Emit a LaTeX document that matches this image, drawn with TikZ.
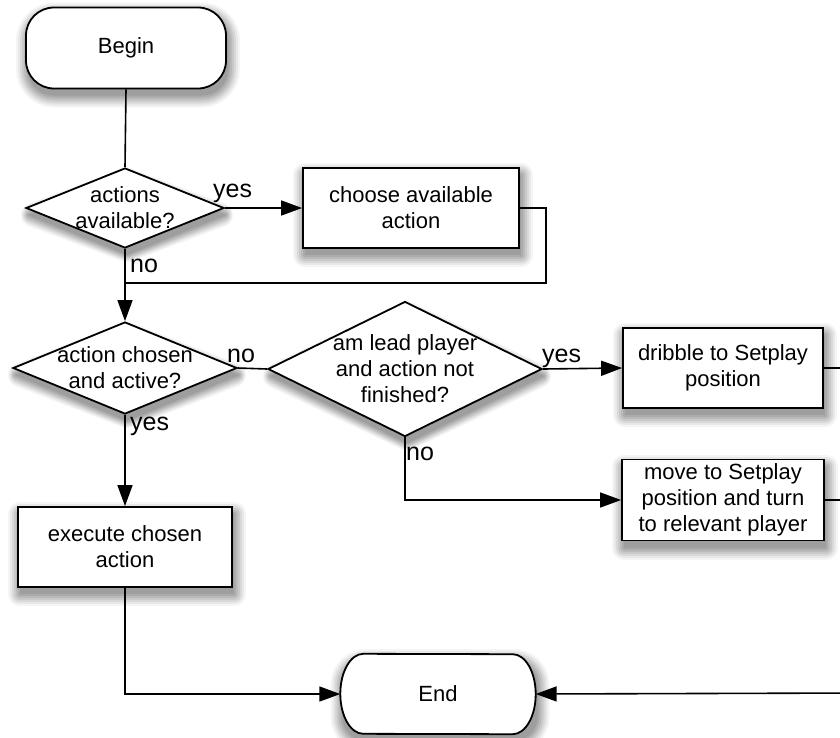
\documentclass[tikz,border=0pt]{standalone}
\usepackage{fontspec}
\setmainfont{Liberation Sans}
\usetikzlibrary{shapes.geometric,arrows.meta}

\tikzset{
  x=1pt, y=-1pt,
  boxfont/.style={font=\fontsize{22}{26}\selectfont},
  terminal/.style={draw, line width=1.8pt, fill=white, rounded corners=28pt,
      minimum width=200pt, minimum height=81pt, boxfont},
  stepbox/.style={draw, line width=1.8pt, fill=white, align=center,
      minimum height=80pt, inner sep=2pt, boxfont},
  decision/.style={draw, diamond, line width=1.8pt, fill=white, inner sep=0pt},
  dtext/.style={align=center, inner sep=0pt, boxfont},
  edgelabel/.style={inner sep=0pt, font=\fontsize{25}{28}\selectfont},
  link/.style={line width=1.6pt},
  arrowlink/.style={line width=1.6pt, -{Triangle[length=21pt,width=15pt]}},
  shadeshape/.style={inner sep=0pt, line join=round},
}

% soft drop shadow: nested grey copies of a shape, widest and lightest first;
% #1 = position, #2 = width, #3 = height, #4 = shape options
\newcommand\dropshade[4]{%
  \foreach \g/\w in {4/24,9/20,15/16,21/12,27/8,33/4}{%
    \path[shift={(2,7)}] #1 node[shadeshape, #4, minimum width=#2, minimum height=#3,
      draw=black!\g, fill=black!\g, line width=\w pt] {};}
  \path[shift={(2,7)}] #1 node[shadeshape, #4, minimum width=#2, minimum height=#3,
      fill=black!38] {};}

\begin{document}
\begin{tikzpicture}
\useasboundingbox (0,0) rectangle (840,737);

% shadows beneath the shapes
\dropshade{(126,48)}{200pt}{81pt}{rectangle, rounded corners=26pt}
\dropshade{(438,694)}{195pt}{80pt}{rectangle, rounded corners=24pt}
\dropshade{(125,208)}{198pt}{80pt}{diamond}
\dropshade{(125,368)}{224pt}{92pt}{diamond}
\dropshade{(405,369)}{274pt}{135pt}{diamond}
\dropshade{(411,208)}{216pt}{80pt}{rectangle}
\dropshade{(723,368)}{200pt}{80pt}{rectangle}
\dropshade{(723,500)}{202pt}{81pt}{rectangle}
\dropshade{(125,547)}{214pt}{80pt}{rectangle}

% start terminal
\node[terminal] (begin) at (126,48) {Begin};

% end terminal: outline with elliptical ends, text on top
\node[minimum width=195pt, minimum height=80pt, inner sep=0pt] (finish) at (438,694) {};
\draw[line width=1.8pt, fill=white]
  ([xshift=23pt]finish.north west)
    arc[start angle=90, end angle=270, x radius=23pt, y radius=40pt]
  -- ([xshift=-23pt]finish.south east)
    arc[start angle=-90, end angle=90, x radius=23pt, y radius=40pt]
  -- cycle;
\node[boxfont] at (finish) {End};

% decisions
\node[decision, minimum width=198pt, minimum height=80pt] (avail) at (125,208) {};
\node[dtext] at (avail) {actions\\available?};

\node[decision, minimum width=224pt, minimum height=92pt] (active) at (125,368) {};
\node[dtext] at (active) {action chosen\\and active?};

\node[decision, minimum width=274pt, minimum height=135pt] (lead) at (405,369) {};
\node[dtext] at (lead) {am lead player\\and action not\\finished?};

% process steps
\node[stepbox, minimum width=216pt] (choose) at (411,208) {choose available\\action};
\node[stepbox, minimum width=200pt] (dribble) at (723,368) {dribble to Setplay\\position};
\node[stepbox, minimum width=202pt, minimum height=81pt] (move) at (723,500)
  {move to Setplay\\position and turn\\to relevant player};
\node[stepbox, minimum width=214pt] (exec) at (125,547) {execute chosen\\action};

% junction points
\coordinate (join) at (125,283);
\coordinate (loopR) at (546,283);
\coordinate (rtop) at (860,368);
\coordinate (rmid) at (860,500);
\coordinate (rbot) at (860,693);

% connectors
\draw[link] (begin.south) -- (avail.north);
\draw[arrowlink] (avail.east) -- (choose.west);
\draw[link] (choose.east) -| (loopR) -- (join);
\draw[arrowlink] (avail.south) -- (active.north);
\draw[link] (active.east) -- (lead.west);
\draw[arrowlink] (lead.east) -- (dribble.west);
\draw[arrowlink] (lead.south) |- (move.west);
\draw[arrowlink] (active.south) -- (exec.north);
\draw[arrowlink] (exec.south) |- (finish.west);
\draw[link] (dribble.east) -- (rtop) -- (rbot);
\draw[link] (move.east) -- (rmid);
\draw[arrowlink] (rbot) -- (finish.east);

% branch labels
\node[edgelabel, anchor=base west] at (213,197) {yes};
\node[edgelabel, anchor=base west] at (130,272) {no};
\node[edgelabel, anchor=base west] at (227,362) {no};
\node[edgelabel, anchor=base west] at (130,430) {yes};
\node[edgelabel, anchor=base west] at (542,362) {yes};
\node[edgelabel, anchor=base west] at (406,460) {no};
\end{tikzpicture}
\end{document}
